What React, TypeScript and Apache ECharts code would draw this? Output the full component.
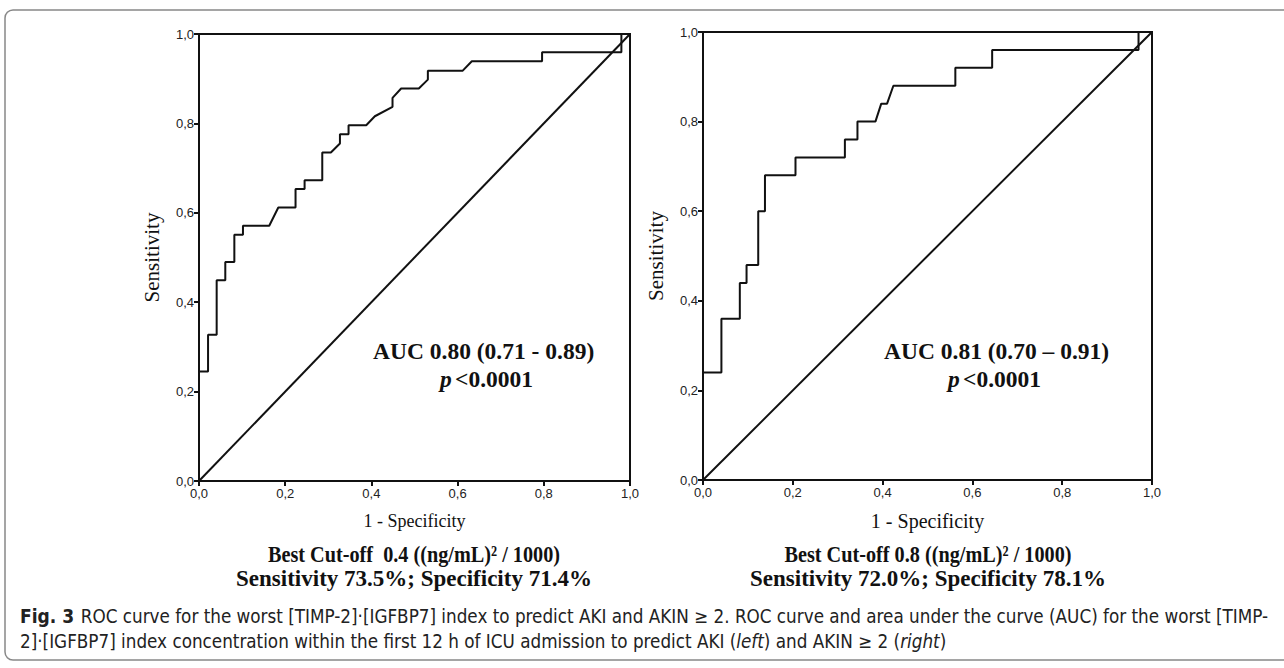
import React, { useEffect, useRef } from "react";
import * as echarts from "echarts";

// Left panel: AKI ROC curve (1 - specificity, sensitivity)
const leftFpr = [0, 0, 0.021, 0.021, 0.041, 0.041, 0.061, 0.061, 0.082, 0.082, 0.102, 0.102, 0.163, 0.184, 0.224, 0.224, 0.245, 0.245, 0.286, 0.286, 0.306, 0.327, 0.327, 0.347, 0.347, 0.388, 0.408, 0.449, 0.449, 0.469, 0.51, 0.531, 0.531, 0.612, 0.633, 0.796, 0.796, 0.98, 0.98, 1];
const leftTpr = [0, 0.245, 0.245, 0.327, 0.327, 0.449, 0.449, 0.49, 0.49, 0.551, 0.551, 0.571, 0.571, 0.612, 0.612, 0.653, 0.653, 0.673, 0.673, 0.735, 0.735, 0.755, 0.776, 0.776, 0.796, 0.796, 0.816, 0.837, 0.857, 0.878, 0.878, 0.898, 0.918, 0.918, 0.939, 0.939, 0.959, 0.959, 1, 1];

// Right panel: AKIN >= 2 ROC curve
const rightFpr = [0, 0, 0.041, 0.041, 0.082, 0.082, 0.097, 0.097, 0.123, 0.123, 0.138, 0.138, 0.206, 0.206, 0.316, 0.316, 0.344, 0.344, 0.384, 0.397, 0.41, 0.424, 0.562, 0.562, 0.644, 0.644, 0.97, 0.97, 1];
const rightTpr = [0, 0.24, 0.24, 0.36, 0.36, 0.44, 0.44, 0.48, 0.48, 0.6, 0.6, 0.68, 0.68, 0.72, 0.72, 0.76, 0.76, 0.8, 0.8, 0.84, 0.84, 0.88, 0.88, 0.92, 0.92, 0.96, 0.96, 1, 1];

// Reference diagonal
const diagX = [0, 1];
const diagY = [0, 1];

const xTitle = "1 - Specificity";
const yTitle = "Sensitivity";
const leftAuc = "AUC 0.80 (0.71 - 0.89)";
const rightAuc = "AUC 0.81 (0.70 \u2013 0.91)";
const pText = "<0.0001";
const leftCut = ["Best Cut-off  0.4 ((ng/mL)\u00B2 / 1000)", "Sensitivity 73.5%; Specificity 71.4%"];
const rightCut = ["Best Cut-off 0.8 ((ng/mL)\u00B2 / 1000)", "Sensitivity 72.0%; Specificity 78.1%"];
const captionLine1 = "ROC curve for the worst [TIMP-2]\u00B7[IGFBP7] index to predict AKI and AKIN \u2265 2. ROC curve and area under the curve (AUC) for the worst [TIMP-";
const captionLine2a = "2]\u00B7[IGFBP7] index concentration within the first 12 h of ICU admission to predict AKI (";
const captionLine2b = ") and AKIN \u2265 2 (";

const pairs = (xs: number[], ys: number[]) => xs.map((x, i) => [x, ys[i]]);

const SERIF = "'Liberation Serif', 'Times New Roman', serif";
const SANS = "'Liberation Sans', Arial, sans-serif";
const CAP = "'Liberation Sans Narrow', 'DejaVu Sans Condensed', 'Noto Sans', sans-serif";

const fmt = (v: number) => v.toFixed(1).replace(".", ",");

function axisX(gridIndex: number, titleSize: number) {
  return {
    type: "value",
    gridIndex,
    min: 0,
    max: 1,
    interval: 0.2,
    name: xTitle,
    nameLocation: "middle",
    nameGap: 31,
    nameTextStyle: { fontFamily: SERIF, fontSize: titleSize, color: "#111" },
    axisLine: { show: true, lineStyle: { color: "#111", width: 2 } },
    axisTick: { show: true, length: 5, lineStyle: { color: "#111", width: 2 } },
    axisLabel: { fontFamily: SANS, fontSize: 13, color: "#222", margin: 6, formatter: fmt },
    splitLine: { show: false },
  };
}

function axisY(gridIndex: number) {
  return {
    type: "value",
    gridIndex,
    min: 0,
    max: 1,
    interval: 0.2,
    name: yTitle,
    nameLocation: "middle",
    nameGap: 37,
    nameTextStyle: { fontFamily: SERIF, fontSize: 21, color: "#111" },
    axisLine: { show: true, lineStyle: { color: "#111", width: 2 } },
    axisTick: { show: true, length: 5, lineStyle: { color: "#111", width: 2 } },
    axisLabel: { fontFamily: SANS, fontSize: 13, color: "#222", margin: 5, formatter: fmt },
    splitLine: { show: false },
  };
}

function lineSeries(idx: number, data: number[][]) {
  return {
    type: "line",
    xAxisIndex: idx,
    yAxisIndex: idx,
    data,
    showSymbol: false,
    symbol: "none",
    lineStyle: { color: "#111", width: 2 },
    silent: true,
  };
}

function serifText(x: number, y: number, text: string, size: number, bold: boolean, align = "left", scaleX = 1) {
  return {
    type: "text",
    x,
    y,
    scaleX,
    style: {
      text,
      font: `${bold ? "bold " : ""}${size}px ${SERIF}`,
      fill: "#111",
      textAlign: align,
      textVerticalAlign: "middle",
    },
  };
}

function pLine(x: number, y: number) {
  return {
    type: "text",
    x,
    y,
    style: {
      text: `{i|p} {b|${pText}}`,
      rich: {
        i: { fontFamily: SERIF, fontStyle: "italic", fontWeight: "bold", fontSize: 23.5, fill: "#111" },
        b: { fontFamily: SERIF, fontWeight: "bold", fontSize: 23.5, fill: "#111" },
      },
      textVerticalAlign: "middle",
    },
  };
}

export default function App() {
  const ref = useRef<HTMLDivElement>(null);
  useEffect(() => {
    document.body.style.margin = "0";
    const chart = echarts.init(ref.current!, null, { renderer: "svg" });
    chart.setOption({
      animation: false,
      backgroundColor: "#fff",
      grid: [
        { left: 199, top: 34, width: 431, height: 447, show: true, borderColor: "#111", borderWidth: 2, backgroundColor: "transparent" },
        { left: 703, top: 32, width: 449, height: 448, show: true, borderColor: "#111", borderWidth: 2, backgroundColor: "transparent" },
      ],
      xAxis: [axisX(0, 18), axisX(1, 20)],
      yAxis: [axisY(0), axisY(1)],
      series: [
        lineSeries(0, pairs(leftFpr, leftTpr)),
        lineSeries(0, pairs(diagX, diagY)),
        lineSeries(1, pairs(rightFpr, rightTpr)),
        lineSeries(1, pairs(diagX, diagY)),
      ],
      graphic: [
        {
          type: "rect",
          shape: { x: 5, y: 10, width: 1400, height: 650, r: 8 },
          style: { fill: "none", stroke: "#888", lineWidth: 1.5 },
          silent: true,
        },
        serifText(373, 351, leftAuc, 23.5, true),
        pLine(440, 379),
        serifText(884, 351, rightAuc, 23.5, true),
        pLine(948, 379),
        serifText(414, 555, leftCut[0], 23, true, "center", 0.88),
        serifText(414, 578, leftCut[1], 23, true, "center"),
        serifText(928, 555, rightCut[0], 23, true, "center", 0.88),
        serifText(928, 578, rightCut[1], 23, true, "center"),
        {
          type: "text",
          x: 20,
          y: 616,
          style: {
            text: `{b|Fig. 3}  {r|${captionLine1}}`,
            rich: {
              b: { fontFamily: CAP, fontWeight: "bold", fontSize: 19, fill: "#222" },
              r: { fontFamily: CAP, fontSize: 18.7, fill: "#222" },
            },
            textVerticalAlign: "middle",
          },
        },
        {
          type: "text",
          x: 20,
          y: 641,
          style: {
            text: `{r|${captionLine2a}}{i|left}{r|${captionLine2b}}{i|right}{r|)}`,
            rich: {
              i: { fontFamily: CAP, fontStyle: "italic", fontSize: 18.7, fill: "#222" },
              r: { fontFamily: CAP, fontSize: 18.7, fill: "#222" },
            },
            textVerticalAlign: "middle",
          },
        },
      ],
    });
    return () => chart.dispose();
  }, []);
  return <div ref={ref} style={{ width: 1284, height: 668 }} />;
}
